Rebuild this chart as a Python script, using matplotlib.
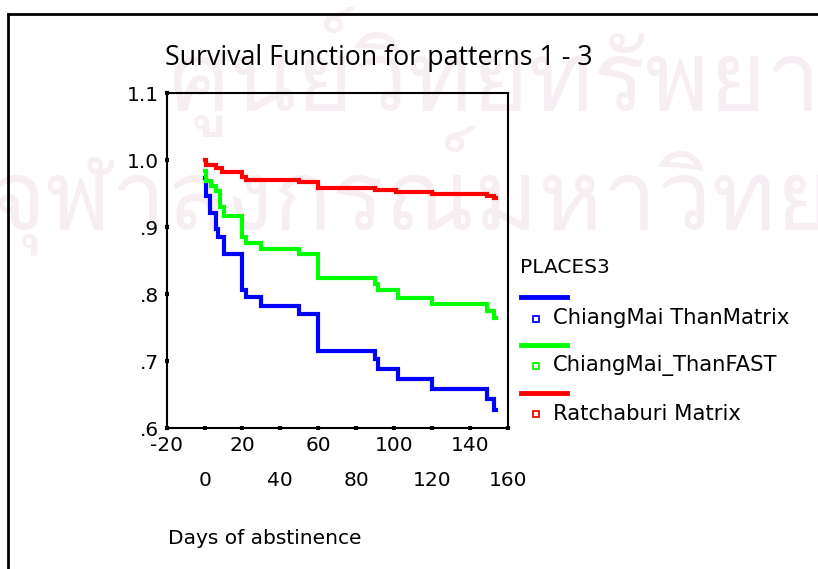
import matplotlib
matplotlib.use("Agg")
import matplotlib.pyplot as plt
from matplotlib.lines import Line2D
from matplotlib import font_manager as fm
from matplotlib.ft2font import FT2Font

# survival curves (days, cumulative survival)
blue_days = [0, 0.5, 1, 3, 6, 7, 10, 20, 22, 30, 50, 60, 90, 91.5, 102, 120, 149, 153, 154]
blue_surv = [0.974, 0.960, 0.947, 0.922, 0.897, 0.885, 0.860, 0.807, 0.796, 0.783,
             0.770, 0.715, 0.703, 0.688, 0.674, 0.658, 0.643, 0.628, 0.628]

green_days = [0, 1, 3.5, 6, 8, 10, 20, 22, 30, 50, 60, 90, 91.5, 102, 120, 149, 153, 154]
green_surv = [0.984, 0.969, 0.962, 0.954, 0.930, 0.917, 0.885, 0.876, 0.867, 0.860,
              0.825, 0.815, 0.807, 0.795, 0.785, 0.775, 0.765, 0.765]

red_days = [0, 1, 6, 9, 20, 22, 50, 60, 90, 101, 120, 149, 153, 154]
red_surv = [1.000, 0.993, 0.989, 0.982, 0.975, 0.971, 0.968, 0.959, 0.955, 0.952,
            0.949, 0.947, 0.944, 0.944]

group_names = ["ChiangMai ThanMatrix", "ChiangMai_ThanFAST", "Ratchaburi Matrix"]
group_colors = ["#0000FF", "#00FF00", "#FF0000"]

x_ticks = [-20, 0, 20, 40, 60, 80, 100, 120, 140, 160]
y_ticks = [0.6, 0.7, 0.8, 0.9, 1.0, 1.1]
y_ticklabels = [".6", ".7", ".8", ".9", "1.0", "1.1"]

W, H = 818, 569
FS = 14.5


def fx(px):
    return px / W


def fy(py):
    return 1 - py / H


def thai_font():
    for f in fm.fontManager.ttflist:
        try:
            if 0x0E28 in FT2Font(f.fname).get_charmap():
                return f.name
        except Exception:
            pass
    return None


fig = plt.figure(figsize=(W / 100, H / 100), dpi=100)
fig.patch.set_facecolor("white")

# faint background watermark (only if a Thai font is around)
tf = thai_font()
if tf:
    fig.text(fx(168), fy(72), "ศูนย์วิทยทรัพยากร", family=tf, fontsize=70,
             color="#F7EEF3", va="center", ha="left", zorder=-5)
    fig.text(fx(-12), fy(190), "จุฬาลงกรณ์มหาวิทยาลัย", family=tf, fontsize=70,
             color="#F7EEF3", va="center", ha="left", zorder=-5)

# outer frame (top and left edges visible)
fig.add_artist(Line2D([fx(8), 1.0], [fy(14), fy(14)], color="black", lw=2))
fig.add_artist(Line2D([fx(8), fx(8)], [fy(14), 0.0], color="black", lw=2))

ax = fig.add_axes([fx(166.7), fy(428.3), fx(507.7) - fx(166.7), fy(93.3) - fy(428.3)])
ax.set_facecolor("none")
ax.set_zorder(2)

series = [(blue_days, blue_surv), (green_days, green_surv), (red_days, red_surv)]
for (d, s), c in zip(series, group_colors):
    ax.step(d, s, where="post", color=c, lw=3, solid_joinstyle="miter")

ax.set_xlim(-20, 160)
ax.set_ylim(0.6, 1.1)
ax.set_xticks(x_ticks)
ax.set_xticklabels([str(t) if i % 2 == 0 else "\n" + str(t)
                    for i, t in enumerate(x_ticks)])
for lbl in ax.get_xticklabels():
    lbl.set_linespacing(2.05)
ax.set_yticks(y_ticks)
ax.set_yticklabels(y_ticklabels)
ax.tick_params(length=3, width=3, direction="inout", labelsize=FS, pad=4)
for sp in ax.spines.values():
    sp.set_linewidth(1.5)

fig.text(fx(165), fy(58), "Survival Function for patterns 1 - 3",
         family="Open Sans", fontsize=19.3, va="center", ha="left")
fig.text(fx(168), fy(538), "Days of abstinence", fontsize=FS, va="center", ha="left")

# legend drawn by hand to match the original layout
fig.text(fx(520), fy(268), "PLACES3", fontsize=FS, va="center", ha="left")
for i, (name, c) in enumerate(zip(group_names, group_colors)):
    y_line = 296.7 + i * 48
    y_lab = 318.5 + i * 47.5
    fig.add_artist(Line2D([fx(520.7), fx(566.7)], [fy(y_line), fy(y_line)],
                          color=c, lw=3.5))
    fig.add_artist(Line2D([fx(536)], [fy(y_lab)], marker="s", markersize=5,
                          markerfacecolor="white", markeredgecolor=c,
                          markeredgewidth=1.3, linestyle="none"))
    fig.text(fx(553), fy(y_lab), name, fontsize=15.2, va="center", ha="left")

fig.savefig("out.png", dpi=100)
